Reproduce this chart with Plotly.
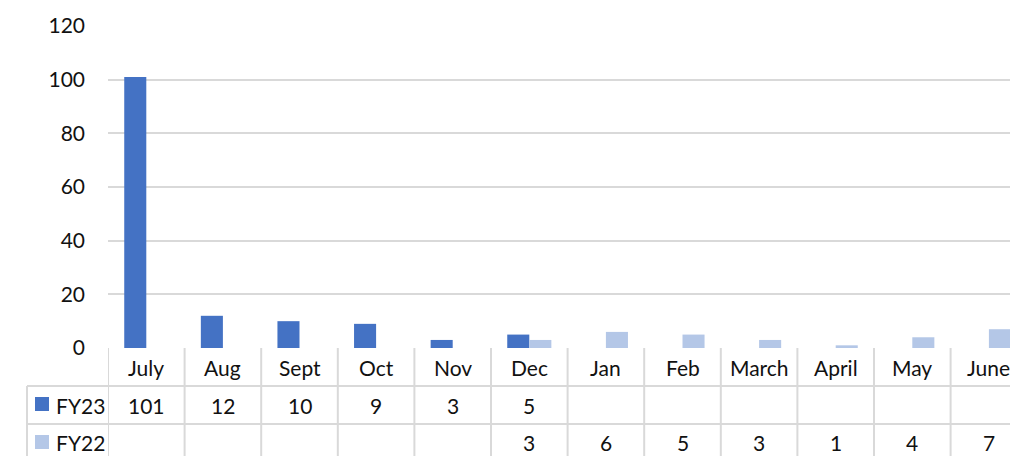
import plotly.graph_objects as go

MONTHS = ["July", "Aug", "Sept", "Oct", "Nov", "Dec", "Jan", "Feb", "March", "April", "May", "June"]
FY23 = [101, 12, 10, 9, 3, 5, None, None, None, None, None, None]
FY22 = [None, None, None, None, None, 3, 6, 5, 3, 1, 4, 7]
SERIES = ["FY23", "FY22"]
COLORS = ["#4472C4", "#B4C7E7"]
Y_TICKS = [0, 20, 40, 60, 80, 100, 120]

FONT = "Lato, 'Open Sans', sans-serif"
GRID = "#D9D9D9"
TXT = "#111111"

# pixel layout helpers (plot area 108..1010 x 26..348)
L, T, B = 108, 26, 108
PW, PH = 1010 - L, 456 - T - B
CAT_W = 76.6


def py(px_y):
    """pixel y -> paper y"""
    return (456 - B - px_y) / PH


def px(px_x):
    """pixel x -> paper x"""
    return (px_x - L) / PW


fig = go.Figure()
x_idx = list(range(len(MONTHS)))
for name, vals, col in zip(SERIES, [FY23, FY22], COLORS):
    fig.add_trace(go.Bar(x=x_idx, y=vals, name=name, marker_color=col,
                         marker_line_width=0))

shapes = []
# table grid: vertical lines at category boundaries
for i in range(len(MONTHS) + 1):
    shapes.append(dict(type="line", xref="x", yref="paper", x0=i - 0.5, x1=i - 0.5,
                       y0=0, y1=py(470), line=dict(color=GRID, width=2)))
# horizontal row lines
for yy in [386, 424]:
    shapes.append(dict(type="line", xref="paper", yref="paper", x0=px(27), x1=1.05,
                       y0=py(yy), y1=py(yy), line=dict(color=GRID, width=2)))
shapes.append(dict(type="line", xref="paper", yref="paper", x0=px(27), x1=px(27),
                   y0=py(386), y1=py(470), line=dict(color=GRID, width=2)))
# legend keys
for yy, col in zip([397, 435], COLORS):
    shapes.append(dict(type="rect", xref="paper", yref="paper", x0=px(35), x1=px(49),
                       y0=py(yy), y1=py(yy + 14), fillcolor=col, line_width=0))

annotations = []
row_y = [py(367), py(405), py(442)]
cell_font = dict(size=21, color=TXT, family=FONT)
for i, m in enumerate(MONTHS):
    annotations.append(dict(x=i, y=row_y[0], xref="x", yref="paper", text=m,
                            xanchor="center", yanchor="middle",
                            showarrow=False, font=cell_font))
    for r, vals in enumerate([FY23, FY22]):
        if vals[i] is not None:
            annotations.append(dict(x=i, y=row_y[r + 1], xref="x", yref="paper",
                                    text=str(vals[i]), xanchor="center", yanchor="middle",
                                    showarrow=False, font=cell_font))
for r, name in enumerate(SERIES):
    annotations.append(dict(x=px(54), y=row_y[r + 1], xref="paper", yref="paper",
                            text=name, xanchor="left", yanchor="middle", showarrow=False,
                            font=cell_font))

fig.update_layout(
    width=1010, height=456,
    margin=dict(l=L, r=0, t=T, b=B),
    paper_bgcolor="white", plot_bgcolor="white",
    barmode="group", bargap=0.424, bargroupgap=0,
    showlegend=False,
    shapes=shapes, annotations=annotations,
    xaxis=dict(range=[-0.5, -0.5 + PW / CAT_W], showticklabels=False, showgrid=False,
               zeroline=False, showline=False, ticks=""),
    yaxis=dict(range=[0, 120], tickvals=Y_TICKS, showgrid=True, gridcolor=GRID,
               gridwidth=1.5, zeroline=False, showline=False, ticks="",
               ticklabelstandoff=22,
               tickfont=dict(size=21, color=TXT, family=FONT)),
)

fig.write_html("out.html", config={"displayModeBar": False},
               post_script="document.body.style.margin='0';")
